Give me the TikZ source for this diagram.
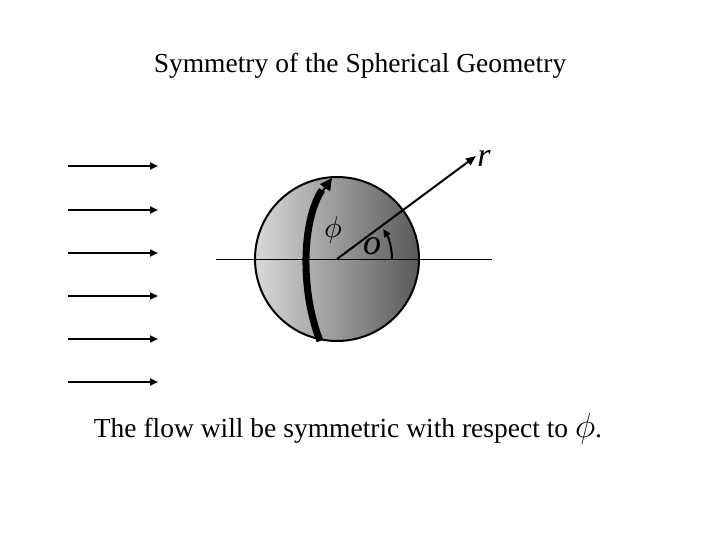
\documentclass[tikz,border=0pt]{standalone}
\usepackage{fontspec}
\usepackage{graphicx}
\setmainfont{Liberation Serif}
\usetikzlibrary{arrows.meta}
\begin{document}
\begin{tikzpicture}[x=1pt,y=-1pt,
  flow/.style={-{Triangle[length=8pt,width=7pt]},line width=2pt},
  lbl/.style={font=\fontsize{27.5}{32}\selectfont}]
\useasboundingbox (0,0) rectangle (720,540);
\node[lbl] (title) at (360,66) {Symmetry of the Spherical Geometry};
\foreach \y [count=\i] in {166,210,253,296,339,382}{
  \coordinate (s\i) at (68,\y); \coordinate (e\i) at (158,\y);
  \draw[flow] (s\i) -- (e\i);}
\coordinate (c) at (337,259);
\shade[left color=black!15,right color=black!65,draw=black,line width=2pt] (c) circle (82);
\coordinate (hl) at (216,259); \coordinate (hr) at (492,259);
\draw[line width=1pt] (hl) -- (hr);
\draw[line width=7pt] (320,341) .. controls (300,290) and (302,220) .. (322,190);
\draw[-{Triangle[length=12pt,width=12pt]},line width=2pt] (322,192) -- (332,178);
\coordinate (rt) at (476,156);
\draw[-{Triangle[length=10pt,width=8pt]},line width=2pt] (c) -- (rt);
\node[font=\fontsize{34}{34}\selectfont\itshape] (r) at (484,158) {r};
\draw[-{Triangle[length=8pt,width=7pt]},line width=2pt] (392,259) arc[start angle=0,end angle=-33,radius=55];
\node (phi) at (333,230) {\scalebox{3}{$\phi$}};
\node[font=\fontsize{36}{36}\selectfont\itshape] (theta) at (372,246) {o};
\node[lbl] (cap) at (348,429) {The flow will be symmetric with respect to \scalebox{1.4}{$\phi$}.};
\end{tikzpicture}
\end{document}
